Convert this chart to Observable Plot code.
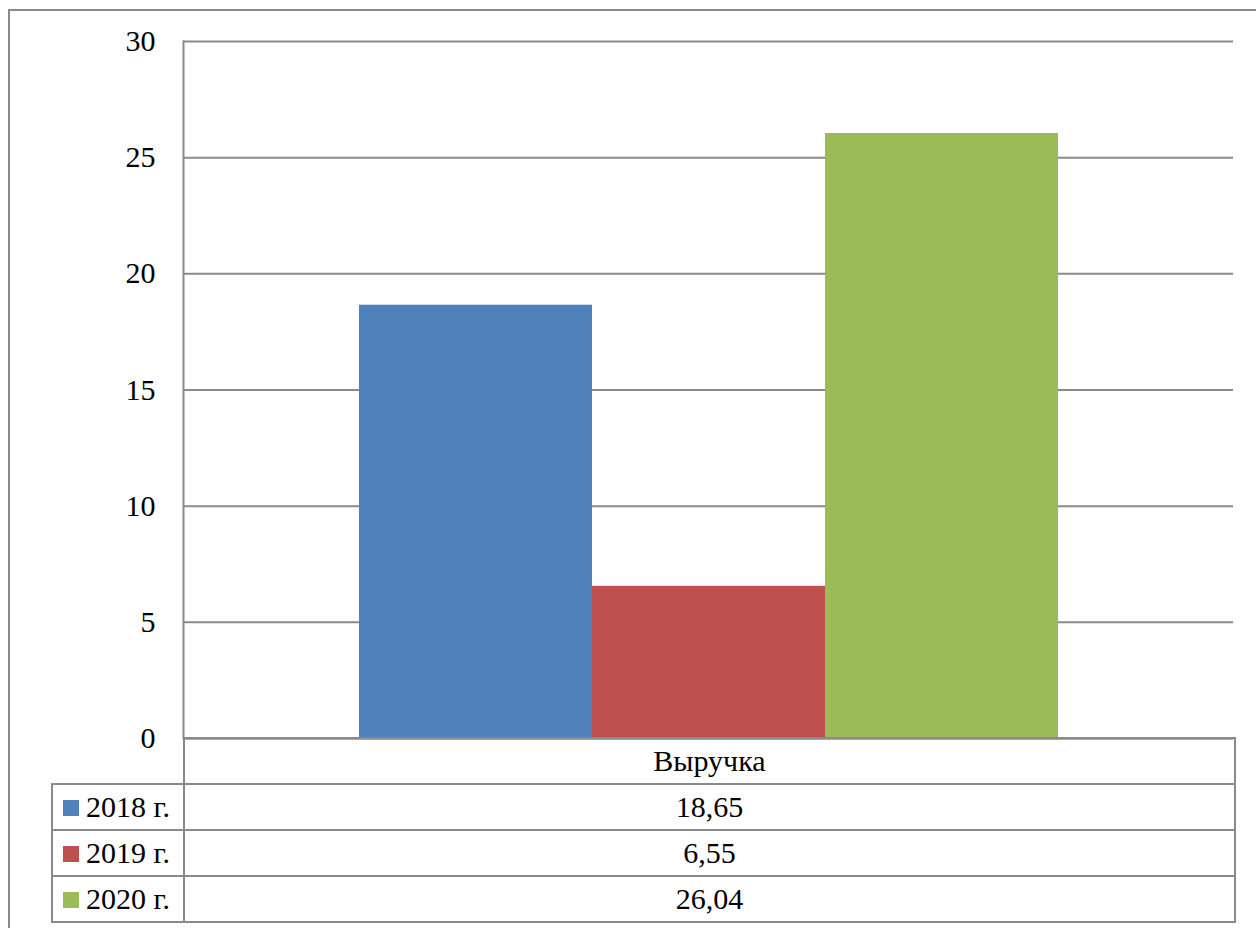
<!DOCTYPE html>
<html>
<head>
<meta charset="utf-8">
<script src="https://cdn.jsdelivr.net/npm/d3@7"></script>
<script src="https://cdn.jsdelivr.net/npm/@observablehq/plot@0.6"></script>
<style>
  html, body { margin: 0; padding: 0; background: #fff; }
  #wrap, #wrap * { font-family: "Liberation Serif", "Times New Roman", Tinos !important; }
  #wrap { position: relative; width: 1256px; height: 928px; overflow: hidden; }
  #frame { position: absolute; left: 8px; top: 9px; width: 1300px; height: 1000px; border-top: 2px solid #8a8a8a; border-left: 2px solid #8a8a8a; box-sizing: border-box; pointer-events: none; }
  #chart { position: absolute; left: 0; top: 0; }
  #tbl { position: absolute; left: 51px; top: 737px; width: 1183px; table-layout: fixed; border-collapse: collapse; font-size: 30px; color: #000; }
  #tbl td { border: 2px solid #8a8a8a; height: 46px; padding: 0; text-align: center; vertical-align: middle; white-space: nowrap; box-sizing: border-box; }
  #tbl td.blank { border: none; border-right: 2px solid #8a8a8a; }
  #tbl td.key { text-align: left; padding-left: 10px; }
  .sw { display: inline-block; width: 16px; height: 16px; margin-right: 7px; vertical-align: 1px; }
</style>
</head>
<body>
<div id="wrap">
  <div id="chart"></div>
  <table id="tbl"><colgroup><col style="width:132px"><col style="width:1051px"></colgroup></table>
  <div id="frame"></div>
</div>
<script>
const category = "Выручка";
const series = ["2018 г.", "2019 г.", "2020 г."];
const values = [18.65, 6.55, 26.04];
const colors = ["#4f81bd", "#c0504d", "#9bbb59"];
const yTicks = [0, 5, 10, 15, 20, 25, 30];

const data = series.map((s, i) => ({ s, v: values[i] }));
const fmt = v => v.toFixed(2).replace(".", ",");
const fam = '"Liberation Serif", "Times New Roman", Tinos';
const setFam = el => el.style.setProperty("font-family", fam, "important");

setFam(document.getElementById("wrap"));

const chart = Plot.plot({
  width: 1256,
  height: 762,
  marginLeft: 183,
  marginRight: 23,
  marginTop: 41,
  marginBottom: 24,
  style: { background: "transparent", color: "#000" },
  x: { domain: series, axis: null, paddingInner: 0, paddingOuter: 0.746 },
  y: { domain: [0, 30] },
  color: { domain: series, range: colors },
  marks: [
    Plot.gridY(yTicks, { stroke: "#8a8a8a", strokeOpacity: 1, strokeWidth: 2 }),
    Plot.barY(data, { x: "s", y: "v", fill: "s", inset: 0 }),
    Plot.ruleY([0], { stroke: "#8a8a8a", strokeWidth: 2 }),
    Plot.frame({ anchor: "left", stroke: "#8a8a8a", strokeWidth: 2 }),
    Plot.axisY(yTicks, { tickSize: 0, tickPadding: 28, fontSize: 30, fill: "#000", label: null, tickFormat: d => String(d) })
  ]
});
chart.setAttribute("font-family", fam);
setFam(chart);
chart.querySelectorAll("g, text").forEach(setFam);
document.getElementById("chart").appendChild(chart);

// data table
const tbl = document.getElementById("tbl");
setFam(tbl);
const head = d3.select(tbl).append("tr");
head.append("td").attr("class", "blank");
head.append("td").attr("class", "val").text(category);
series.forEach((s, i) => {
  const tr = d3.select(tbl).append("tr");
  const k = tr.append("td").attr("class", "key");
  k.append("span").attr("class", "sw").style("background", colors[i]);
  k.append("span").text(s);
  tr.append("td").attr("class", "val").text(fmt(values[i]));
});
tbl.querySelectorAll("tr, td, span").forEach(setFam);
</script>
</body>
</html>
